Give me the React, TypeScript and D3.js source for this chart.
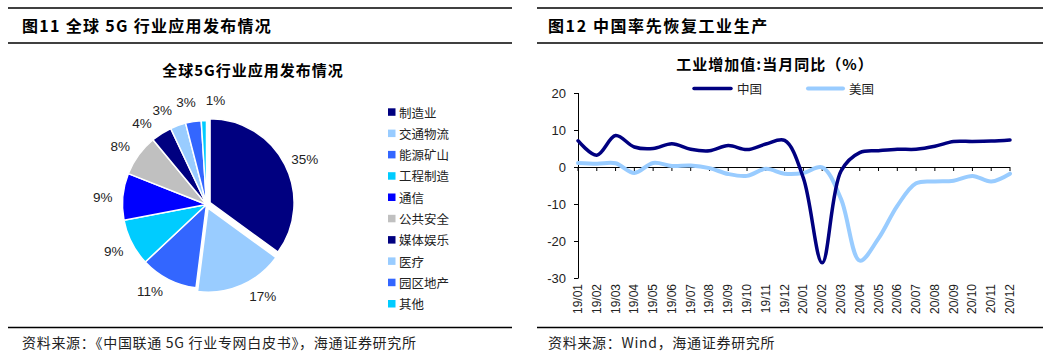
import React from "react";
import * as d3 from "d3";

// ---------- Left: pie data ----------
const pieCategories = ["制造业", "交通物流", "能源矿山", "工程制造", "通信", "公共安全", "媒体娱乐", "医疗", "园区地产", "其他"];
const pieValues = [35, 17, 11, 9, 9, 8, 4, 3, 3, 1];
const pieColors = ["#000080", "#99CCFF", "#3366FF", "#00CCFF", "#0000FF", "#C0C0C0", "#000080", "#99CCFF", "#3366FF", "#00CCFF"];

// ---------- Right: line data ----------
const months = ["19/01", "19/02", "19/03", "19/04", "19/05", "19/06", "19/07", "19/08", "19/09", "19/10", "19/11", "19/12",
  "20/01", "20/02", "20/03", "20/04", "20/05", "20/06", "20/07", "20/08", "20/09", "20/10", "20/11", "20/12"];
const chinaValues = [7.1, 3.2, 8.5, 5.4, 5.0, 6.3, 4.8, 4.4, 5.8, 4.7, 6.2, 7.2, -3.0, -25.9, -1.1, 3.9, 4.4, 4.8, 4.8, 5.6, 6.9, 6.9, 7.0, 7.3];
const usValues = [1.1, 0.9, 1.0, -1.6, 1.1, 0.3, 0.4, -0.3, -1.9, -2.4, -0.5, -1.8, -1.6, -0.1, -8.6, -25.3, -19.3, -10.5, -4.4, -3.9, -3.7, -2.4, -3.9, -1.8];
const yTicks = [20, 10, 0, -10, -20, -30];
const seriesNames = ["中国", "美国"];

// label layout tweaks (degrees), not data
const labelNudge = [2.6, -8, 5.9, 0, -1.4, -2, -6.0, -5.4, -2.4, 6.7];

const CJK = "'Noto Sans CJK SC', 'Noto Sans', sans-serif";
const LAT = "'Liberation Sans', Arial, sans-serif";

export default function App() {
  // pie
  const cx = 206.5, cy = 204.5, R = 84;
  const pie = d3.pie<number>().sort(null).value((d) => d)(pieValues);
  const arc = d3.arc<d3.PieArcDatum<number>>().innerRadius(0).outerRadius(R);
  const explode = [4, 4, 0, 0, 0, 0, 0, 0, 0, 0];

  // lines
  const x = d3.scalePoint<string>().domain(months).range([578, 1010]);
  const y = d3.scaleLinear().domain([-30, 20]).range([278, 93]);
  const line = d3
    .line<number>()
    .x((_, i) => x(months[i]) as number)
    .y((d) => y(d))
    .curve(d3.curveCatmullRom.alpha(0.5));

  const legendY = [112, 133.3, 154.6, 175.9, 197.2, 218.5, 239.8, 261.1, 282.4, 303.7];

  return (
    <svg width={1055} height={356} style={{ position: "absolute", left: 0, top: 0, background: "#fff" }}>
      {/* frames */}
      <g stroke="#000" strokeWidth={1.6}>
        <line x1={8} x2={512} y1={8} y2={8} />
        <line x1={8} x2={512} y1={43} y2={43} />
        <line x1={8} x2={512} y1={327.5} y2={327.5} />
        <line x1={537} x2={1043} y1={8} y2={8} />
        <line x1={537} x2={1043} y1={43} y2={43} />
        <line x1={537} x2={1043} y1={327.5} y2={327.5} />
      </g>
      <text x={22} y={31.5} fontFamily={CJK} fontWeight={700} fontSize={16} letterSpacing={1.3} fill="#000">
        图11 全球 5G 行业应用发布情况
      </text>
      <text x={548} y={31.5} fontFamily={CJK} fontWeight={700} fontSize={16} letterSpacing={1.6} fill="#000">
        图12 中国率先恢复工业生产
      </text>
      <text x={22} y={348} fontFamily={CJK} fontSize={14} letterSpacing={0.7} fill="#222">
        资料来源：《中国联通 5G 行业专网白皮书》，海通证券研究所
      </text>
      <text x={548} y={348} fontFamily={CJK} fontSize={14} letterSpacing={0.7} fill="#222">
        资料来源：Wind，海通证券研究所
      </text>

      {/* pie */}
      <text x={253} y={76} textAnchor="middle" fontFamily={CJK} fontWeight={700} fontSize={15} letterSpacing={1}>
        全球5G行业应用发布情况
      </text>
      <g transform={`translate(${cx},${cy})`}>
        {pie.map((p, i) => {
          const mid = (p.startAngle + p.endAngle) / 2;
          const dx = Math.sin(mid) * explode[i];
          const dy = -Math.cos(mid) * explode[i];
          return (
            <path key={i} d={arc(p) as string} fill={pieColors[i]} stroke="#fff" strokeWidth={1.5}
              transform={`translate(${dx},${dy})`} />
          );
        })}
        {pie.map((p, i) => {
          const mid = (p.startAngle + p.endAngle) / 2 + (labelNudge[i] * Math.PI) / 180;
          const lr = 104 + explode[i];
          return (
            <text key={i} x={Math.sin(mid) * lr} y={-Math.cos(mid) * lr} textAnchor="middle" dominantBaseline="central"
              fontFamily={LAT} fontSize={13.5} fill="#222">
              {pieValues[i]}%
            </text>
          );
        })}
      </g>
      {/* pie legend */}
      {pieCategories.map((c, i) => (
        <g key={c} transform={`translate(388,${legendY[i]})`}>
          <rect x={0} y={-3.7} width={7.5} height={7.5} fill={pieColors[i]} />
          <text x={11} y={0} dominantBaseline="central" fontFamily={CJK} fontSize={12.5} fill="#222">
            {c}
          </text>
        </g>
      ))}

      {/* line chart */}
      <text x={775} y={70} textAnchor="middle" fontFamily={CJK} fontWeight={700} fontSize={15} letterSpacing={1}>
        工业增加值:当月同比（%）
      </text>
      {/* legend */}
      <g>
        <line x1={694} x2={731} y1={88.5} y2={88.5} stroke="#000080" strokeWidth={3.5} strokeLinecap="round" />
        <text x={737} y={88.5} dominantBaseline="central" fontFamily={CJK} fontSize={12.5} fill="#222">{seriesNames[0]}</text>
        <line x1={808} x2={843} y1={88.5} y2={88.5} stroke="#99CCFF" strokeWidth={4} strokeLinecap="round" />
        <text x={849} y={88.5} dominantBaseline="central" fontFamily={CJK} fontSize={12.5} fill="#222">{seriesNames[1]}</text>
      </g>
      {/* axes */}
      <g stroke="#000" strokeWidth={1}>
        <line x1={578.5} x2={578.5} y1={y(20)} y2={y(-30)} />
        {yTicks.map((t) => (
          <line key={t} x1={574} x2={578.5} y1={Math.round(y(t)) + 0.5} y2={Math.round(y(t)) + 0.5} />
        ))}
        <line x1={578} x2={1010} y1={Math.round(y(0)) + 0.5} y2={Math.round(y(0)) + 0.5} />
        {months.map((m) => (
          <line key={m} x1={x(m)} x2={x(m)} y1={y(0)} y2={y(0) + 4} />
        ))}
      </g>
      {yTicks.map((t) => (
        <text key={t} x={566} y={y(t)} textAnchor="end" dominantBaseline="central" fontFamily={LAT} fontSize={13} fill="#222">
          {t}
        </text>
      ))}
      {months.map((m) => (
        <text key={m} transform={`translate(${x(m)},284) rotate(-90)`} textAnchor="end" dominantBaseline="central"
          fontFamily={LAT} fontSize={12} fill="#222">
          {m}
        </text>
      ))}
      <path d={line(usValues) as string} fill="none" stroke="#99CCFF" strokeWidth={4} strokeLinejoin="round" strokeLinecap="round" />
      <path d={line(chinaValues) as string} fill="none" stroke="#000080" strokeWidth={3.5} strokeLinejoin="round" strokeLinecap="round" />
    </svg>
  );
}
